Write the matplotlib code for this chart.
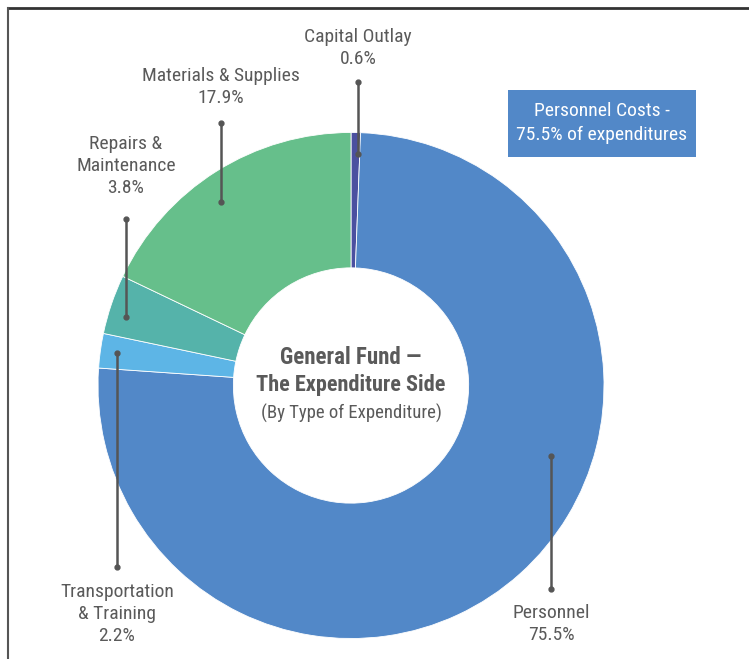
import matplotlib
matplotlib.use("Agg")
import matplotlib.pyplot as plt
from matplotlib.lines import Line2D
from matplotlib.patches import Rectangle
from matplotlib import font_manager as fm
import os

categories = ["Capital Outlay", "Personnel", "Transportation\n& Training",
              "Repairs &\nMaintenance", "Materials & Supplies"]
values = [0.6, 75.5, 2.2, 3.8, 17.9]
colors = ["#4B50A0", "#5288C8", "#5DB5E6", "#55B3AA", "#66BF8B"]


def pick_font(bold):
    prefs = ["robotocondensed", "opensanscondensed", "opensans_condensed",
             "liberationsansnarrow", "notosanscondensed", "notosans-condensed",
             "dejavusanscondensed"]
    found = []
    for f in fm.fontManager.ttflist:
        base = os.path.basename(f.fname).lower().replace(" ", "")
        if not ("condensed" in base or "narrow" in base):
            continue
        if "italic" in base or "oblique" in base:
            continue
        if "semicondensed" in base or "extracondensed" in base:
            continue
        isbold = "bold" in base and "semibold" not in base and "extrabold" not in base
        if bold != isbold:
            continue
        if not bold and any(w in base for w in ["light", "thin", "medium", "black", "semibold", "extrabold"]):
            continue
        rank = len(prefs)
        for i, p in enumerate(prefs):
            if base.startswith(p):
                rank = i
                break
        found.append((rank, f.fname))
    if found:
        found.sort()
        return found[0][1]
    return None


reg_path = pick_font(False)
bold_path = pick_font(True)


def fp(size, bold=False):
    path = bold_path if bold else reg_path
    if path:
        return fm.FontProperties(fname=path, size=size)
    return fm.FontProperties(family="DejaVu Sans", size=size * 0.85,
                             weight='bold' if bold else 'normal')


W, H = 749, 659
fig = plt.figure(figsize=(W / 100, H / 100), dpi=100)
ax = fig.add_axes([0, 0, 1, 1])
ax.set_xlim(0, W)
ax.set_ylim(0, H)
ax.set_aspect('equal')
ax.axis('off')


def Y(y):
    return H - y


cx, cy, R = 351, 385.5, 253
ax.pie(values, colors=colors, startangle=90, counterclock=False,
       center=(cx, Y(cy)), radius=R,
       wedgeprops=dict(width=R * 0.535, edgecolor='white', linewidth=0.6))
ax.set_xlim(0, W)
ax.set_ylim(0, H)

txt = "#5a5a5a"
fs = 14
labels = [
    (358, 48, f"{categories[0]}\n{values[0]}%"),
    (221, 87, f"{categories[4]}\n{values[4]}%"),
    (126, 166, f"{categories[3]}\n{values[3]}%"),
    (117, 614, f"{categories[2]}\n{values[2]}%"),
    (551, 624, f"{categories[1]}\n{values[1]}%"),
]
for x, y, t in labels:
    ax.text(x, Y(y), t, ha='center', va='center', fontproperties=fp(fs),
            color=txt, linespacing=1.3)

leaders = [
    (358, 82, 154),
    (221, 123, 202),
    (126, 219, 317),
    (117, 353, 567),
    (551, 456, 589),
]
for x, y0, y1 in leaders:
    ax.add_line(Line2D([x, x], [Y(y0), Y(y1)], color="#555555", lw=1.8,
                       marker='o', markersize=3.5, markevery=[0, 1],
                       solid_capstyle='butt'))

ax.text(cx, Y(357), "General Fund \u2014", ha='center', va='center',
        fontproperties=fp(16.5, True), color=txt)
ax.text(cx, Y(385), "The Expenditure Side", ha='center', va='center',
        fontproperties=fp(16, True), color=txt)
ax.text(cx, Y(413), "(By Type of Expenditure)", ha='center', va='center',
        fontproperties=fp(13.5), color=txt)

ax.add_patch(Rectangle((508, Y(157)), 188, 67, facecolor="#5288C8",
                       edgecolor='none'))
ax.text(602, Y(123), "Personnel Costs -\n75.5% of expenditures", ha='center',
        va='center', fontproperties=fp(14), color='white', linespacing=1.35)

ax.add_line(Line2D([8, W], [Y(8), Y(8)], color="#333333", lw=2))
ax.add_line(Line2D([8, 8], [Y(8), 0], color="#555555", lw=1.5))

fig.savefig("out.png", dpi=100)
